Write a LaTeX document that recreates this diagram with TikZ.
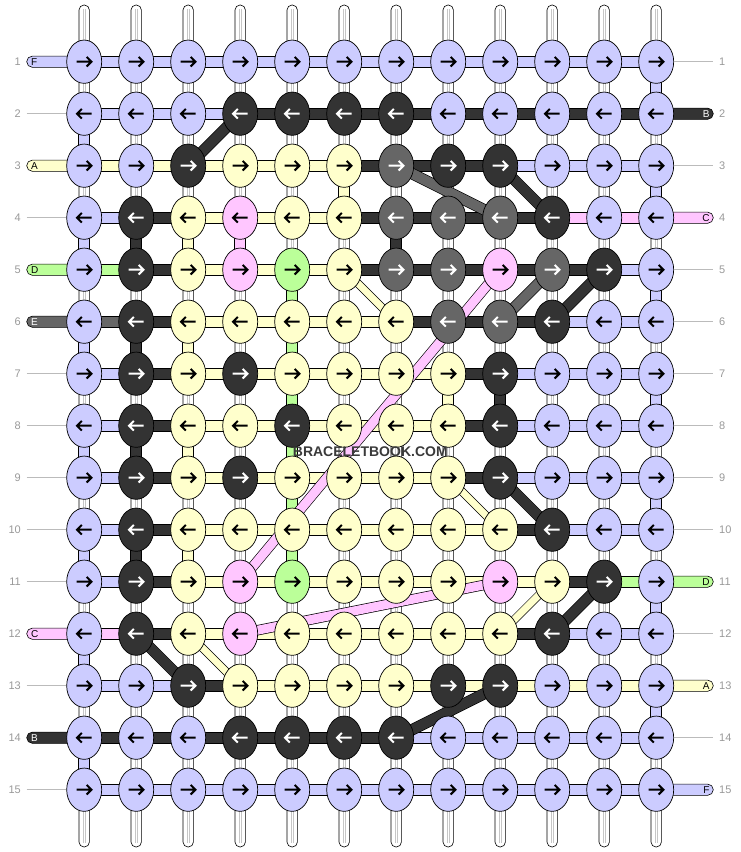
\documentclass[tikz,border=0pt]{standalone}
\usepackage{fontspec}
\setmainfont{Liberation Sans}
\usetikzlibrary{shapes.geometric}
\definecolor{colL}{HTML}{CCCCFF}
\definecolor{colD}{HTML}{333333}
\definecolor{colG}{HTML}{666666}
\definecolor{colY}{HTML}{FFFFCC}
\definecolor{colP}{HTML}{FFC6FF}
\definecolor{colN}{HTML}{BBFF99}
\colorlet{acL}{black}
\colorlet{acY}{black}
\colorlet{acP}{black}
\colorlet{acN}{black}
\colorlet{acD}{white}
\colorlet{acG}{white}
\definecolor{numc}{HTML}{999999}
\definecolor{linec}{HTML}{BBBBBB}
\definecolor{wmc}{HTML}{3A3A3A}
\pgfdeclarelayer{warp}
\pgfdeclarelayer{bars}
\pgfdeclarelayer{diag}
\pgfsetlayers{warp,bars,diag,main}
\begin{document}
\begin{tikzpicture}[x=1pt,y=-1pt,
  knot/.style={ellipse, draw=black, line width=0.7pt, minimum width=35pt, minimum height=43.3pt, inner sep=0pt},
  arr/.style={line width=2pt, line cap=butt, line join=miter},
  bar/.style={draw=black, line width=0.6pt},
  warpst/.style={draw=black, fill=white, line width=0.6pt, rounded corners=5pt},
  lab/.style={inner sep=0pt, font=\fontsize{10}{10}\selectfont},
  rownum/.style={inner sep=0pt, text=numc, font=\fontsize{11}{11}\selectfont},
  greyline/.style={draw=linec, line width=0.8pt}]
\useasboundingbox (0,0) rectangle (740,852);

% knots
\foreach \r/\nl in {
 1/{L,L,L,L,L,L,L,L,L,L,L,L},
 2/{L,L,L,D,D,D,D,L,L,L,L,L},
 3/{L,L,D,Y,Y,Y,G,D,D,L,L,L},
 4/{L,D,Y,P,Y,Y,G,G,G,D,L,L},
 5/{L,D,Y,P,N,Y,G,G,P,G,D,L},
 6/{L,D,Y,Y,Y,Y,Y,G,G,D,L,L},
 7/{L,D,Y,D,Y,Y,Y,Y,D,L,L,L},
 8/{L,D,Y,Y,D,Y,Y,Y,D,L,L,L},
 9/{L,D,Y,D,Y,Y,Y,Y,D,L,L,L},
 10/{L,D,Y,Y,Y,Y,Y,Y,Y,D,L,L},
 11/{L,D,Y,P,N,Y,Y,Y,P,Y,D,L},
 12/{L,D,Y,P,Y,Y,Y,Y,Y,D,L,L},
 13/{L,L,D,Y,Y,Y,Y,D,D,L,L,L},
 14/{L,L,L,D,D,D,D,L,L,L,L,L},
 15/{L,L,L,L,L,L,L,L,L,L,L,L}} {
 \foreach \k [count=\c] in \nl {
   \pgfmathsetmacro{\x}{84.2+52*(\c-1)}
   \pgfmathsetmacro{\y}{61.7+52*(\r-1)}
   \node[knot, fill=col\k] (k-\r-\c) at (\x,\y) {};
   \ifodd\r\relax
     \draw[arr, draw=ac\k] (\x-7.5,\y) -- (\x+7,\y) (\x+2.4,\y-4.8) -- (\x+7.2,\y) -- (\x+2.4,\y+4.8);
   \else
     \draw[arr, draw=ac\k] (\x+7.5,\y) -- (\x-7,\y) (\x-2.4,\y-4.8) -- (\x-7.2,\y) -- (\x-2.4,\y+4.8);
   \fi
 }
}

% warp strands
\begin{pgfonlayer}{warp}
\foreach \c in {1,...,12} {
  \pgfmathsetmacro{\x}{84.2+52*(\c-1)}
  \draw[warpst] (\x-5.2,5) rectangle (\x+5.2,847);
  \draw[gray!45, line width=0.6pt] (\x-1.3,9) -- (\x-1.3,843) (\x+1.3,9) -- (\x+1.3,843);
}
% vertical coloured segments (between row r and r+1)
\foreach \r/\c/\k in {1/12/L,3/12/L,5/12/L,7/12/L,9/12/L,11/12/L,13/12/L,
  2/1/L,4/1/L,6/1/L,8/1/L,10/1/L,12/1/L,14/1/L,
  3/6/Y,4/2/D,6/2/D,8/2/D,10/2/D,4/3/Y,6/3/Y,8/3/Y,10/3/Y,4/4/P,4/7/D,
  5/5/N,6/5/N,7/5/N,8/5/N,9/5/N,10/5/N,7/8/Y,7/9/D} {
  \pgfmathtruncatemacro{\s}{\r+1}
  \draw[bar, fill=col\k] ([xshift=-5.5pt]k-\r-\c.center) rectangle ([xshift=5.5pt]k-\s-\c.center);
}
\end{pgfonlayer}

% horizontal bars
\begin{pgfonlayer}{bars}
\foreach \r/\hl in {
 1/{L,L,L,L,L,L,L,L,L,L,L},
 2/{L,L,L,D,D,D,D,D,D,D,D},
 3/{Y,Y,Y,Y,Y,D,D,D,L,L,L},
 4/{L,D,Y,Y,Y,D,D,D,D,P,P},
 5/{N,D,Y,Y,Y,D,D,D,D,D,L},
 6/{G,D,Y,Y,Y,Y,D,D,D,L,L},
 7/{L,D,Y,Y,Y,Y,Y,D,L,L,L},
 8/{L,D,Y,Y,Y,Y,Y,D,L,L,L},
 9/{L,D,Y,Y,Y,Y,Y,D,L,L,L},
 10/{L,D,Y,Y,Y,Y,Y,Y,D,L,L},
 11/{L,D,Y,Y,Y,Y,Y,Y,Y,D,N},
 12/{P,D,Y,Y,Y,Y,Y,Y,D,L,L},
 13/{L,L,D,Y,Y,Y,Y,Y,Y,Y,Y},
 14/{D,D,D,D,D,D,L,L,L,L,L},
 15/{L,L,L,L,L,L,L,L,L,L,L}} {
  \foreach \k [count=\c] in \hl {
    \pgfmathtruncatemacro{\d}{\c+1}
    \draw[bar, fill=col\k] ([yshift=5.6pt]k-\r-\c.center) rectangle ([yshift=-5.6pt]k-\r-\d.center);
  }
}
% left stubs
\foreach \r/\k/\lt/\tc in {1/L/F/black,3/Y/A/black,5/N/D/black,6/G/E/white,12/P/C/black,14/D/B/white} {
  \pgfmathsetmacro{\y}{61.7+52*(\r-1)}
  \draw[bar, fill=col\k, rounded corners=5.6pt] (26.7,\y-5.6) rectangle ([yshift=-5.6pt]k-\r-1.center);
  \node[lab, anchor=west, text=\tc] (ls-\r) at (30.8,\y) {\lt};
}
% right stubs
\foreach \r/\k/\lt/\tc in {2/D/B/white,4/P/C/black,11/N/D/black,13/Y/A/black,15/L/F/black} {
  \pgfmathsetmacro{\y}{61.7+52*(\r-1)}
  \draw[bar, fill=col\k, rounded corners=5.6pt] ([yshift=5.6pt]k-\r-12.center) rectangle (713.3,\y+5.6);
  \node[lab, anchor=east, text=\tc] (rs-\r) at (709.8,\y) {\lt};
}
\end{pgfonlayer}

% diagonal connectors
\begin{pgfonlayer}{diag}
\foreach \ra/\ca/\rb/\cb/\k/\w in {2/4/3/3/D/10,3/7/4/9/G/10,3/9/4/10/D/10,5/9/11/4/P/9,
  5/10/6/9/G/10,5/11/6/10/D/10,5/6/6/7/Y/7,9/8/10/9/Y/7,9/9/10/10/D/10,11/10/12/9/Y/7,
  12/10/11/11/D/10,12/4/11/9/P/9,12/2/13/3/D/10,12/3/13/4/Y/7,13/9/14/7/D/10} {
  \pgfmathsetmacro{\wo}{\w+1.3}
  \draw[line width=\wo pt, black] (k-\ra-\ca.center) -- (k-\rb-\cb.center);
  \draw[line width=\w pt, col\k] (k-\ra-\ca.center) -- (k-\rb-\cb.center);
}
\end{pgfonlayer}

% grey lines for rows without a stub
\foreach \r in {2,4,7,8,9,10,11,13,15} {
  \pgfmathsetmacro{\y}{61.7+52*(\r-1)}
  \draw[greyline] (26.7,\y) -- (k-\r-1.west);
}
\foreach \r in {1,3,5,6,7,8,9,10,12,14} {
  \pgfmathsetmacro{\y}{61.7+52*(\r-1)}
  \draw[greyline] (k-\r-12.east) -- (713.3,\y);
}
% row numbers
\foreach \r in {1,...,15} {
  \pgfmathsetmacro{\y}{61.7+52*(\r-1)}
  \node[rownum, anchor=east] (nl-\r) at (21,\y) {\r};
  \node[rownum, anchor=west] (nr-\r) at (719,\y) {\r};
}

\node[inner sep=0pt, text=wmc, font=\bfseries\fontsize{14}{14}\selectfont] (wm) at (370.3,451.3) {BRACELETBOOK.COM};
\end{tikzpicture}
\end{document}
